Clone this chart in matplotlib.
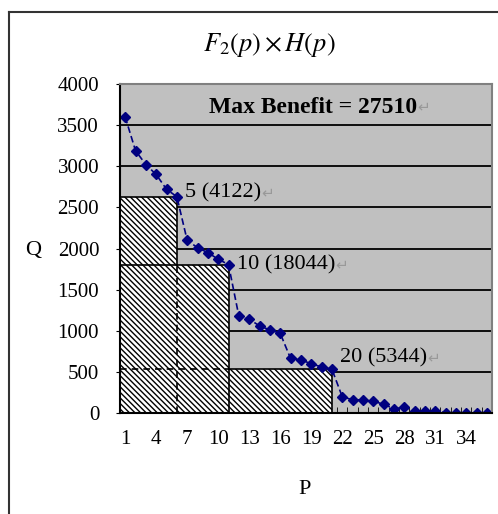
import numpy as np
import matplotlib
matplotlib.use('Agg')
import matplotlib.pyplot as plt
from matplotlib.lines import Line2D

# data
p_values = list(range(1, 37))
q_values = [3600, 3190, 3020, 2900, 2720, 2630, 2100, 2010, 1950, 1870, 1805,
            1180, 1140, 1060, 1010, 970, 665, 645, 600, 560, 535,
            200, 160, 160, 140, 110, 50, 70, 30, 30, 30,
            0, 0, 0, 0, 0]
x_tick_labels = [1, 4, 7, 10, 13, 16, 19, 22, 25, 28, 31, 34]
y_ticks = [0, 500, 1000, 1500, 2000, 2500, 3000, 3500, 4000]

# chosen break points and their labels
sel_p = [6, 11, 21]
sel_labels = ['5 (4122)', '10 (18044)', '20 (5344)']
max_benefit = 27510

plt.rcParams['font.family'] = ['Liberation Serif', 'DejaVu Sans']
plt.rcParams['mathtext.fontset'] = 'stix'
plt.rcParams['hatch.linewidth'] = 1.0

fig = plt.figure(figsize=(4.98, 5.14), dpi=100)
ax = fig.add_axes([120 / 498, 1 - 413 / 514, 372 / 498, 329 / 514])
ax.set_facecolor('#C0C0C0')

ax.set_xlim(0.5, 36.5)
ax.set_ylim(0, 4000)

# gridlines
for yv in y_ticks[1:-1]:
    ax.axhline(yv, color='black', lw=1.3, zorder=1)

# hatched rectangles, largest area drawn first
sel_q = [q_values[p - 1] for p in sel_p]
for p, q in zip(sel_p[::-1], sel_q[::-1]):
    ax.fill_between([0.5, p], 0, q, facecolor='white', hatch='\\\\\\\\\\\\',
                    edgecolor='black', lw=0, zorder=2)

# rectangle outlines: (x0, x1, y0, y1, dashed)
q1, q2, q3 = sel_q
p1, p2, p3 = sel_p
edges = [
    (0.5, p1, q1, q1, False), (p1, p1, q2, q1, False), (p1, p1, 0, q2, True),
    (0.5, p2, q2, q2, False), (p2, p2, 0, q2, False),
    (0.5, p2, q3, q3, True), (p2, p3, q3, q3, False), (p3, p3, 0, q3, False),
]
for x0, x1, y0, y1, dashed in edges:
    ax.plot([x0, x1], [y0, y1], color='black', lw=1.2,
            ls=(0, (4, 3)) if dashed else '-', zorder=3)

# curve
ax.plot(p_values, q_values, color='#000080', lw=1.2, ls=(0, (4, 2)),
        marker='D', ms=5, zorder=4)

# annotations
offsets = [(6, 3), (6, 0), (6, 8)]
for p, q, lab, (dx, dy) in zip(sel_p, sel_q, sel_labels, offsets):
    t = ax.annotate(lab, (p, q), xytext=(dx, dy), textcoords='offset points',
                    fontsize=16, va='center', ha='left', zorder=5)
    ax.annotate('\u21b5', xy=(1, 0.5), xycoords=t, va='center', ha='left',
                fontsize=11, color='#999999', family='DejaVu Sans')

t = ax.text(0.52, 0.93, f'Max Benefit = {max_benefit}', transform=ax.transAxes,
            fontsize=17, fontweight='bold', ha='center', va='center', zorder=5)
ax.annotate('\u21b5', xy=(1, 0.5), xycoords=t, va='center', ha='left',
            fontsize=11, color='#999999', family='DejaVu Sans')

# axes styling
ax.set_yticks(y_ticks)
ax.set_yticklabels([str(v) for v in y_ticks], fontsize=15)
ax.tick_params(axis='y', direction='out', length=3, pad=12)
ax.set_xticks(x_tick_labels)
ax.set_xticklabels([str(v) for v in x_tick_labels], fontsize=15)
ax.tick_params(axis='x', length=0, pad=12)
ax.set_xticks(np.arange(0.5, 37, 1), minor=True)
ax.tick_params(axis='x', which='minor', direction='in', length=4, color='black')

ax.spines['top'].set_color('#808080')
ax.spines['right'].set_color('#808080')
ax.spines['left'].set_color('black')
ax.spines['bottom'].set_color('black')
for s in ax.spines.values():
    s.set_linewidth(1.5)
    s.set_zorder(6)

fig.text(33 / 498, 1 - 250 / 514, 'Q', fontsize=16, ha='center', va='center')
fig.text(305 / 498, 1 - 490 / 514, 'P', fontsize=16, ha='center', va='center')
fig.text(269 / 498, 1 - 45 / 514, r'$F_2(p)\times H(p)$', fontsize=19,
         ha='center', va='center')

# outer chart border (only top and left visible)
bx, by = 9 / 498, 1 - 12 / 514
fig.add_artist(Line2D([bx, bx], [0, by], color='#333333', lw=1.5))
fig.add_artist(Line2D([bx, 1], [by, by], color='#333333', lw=1.5))

fig.savefig('out.png', dpi=100)
